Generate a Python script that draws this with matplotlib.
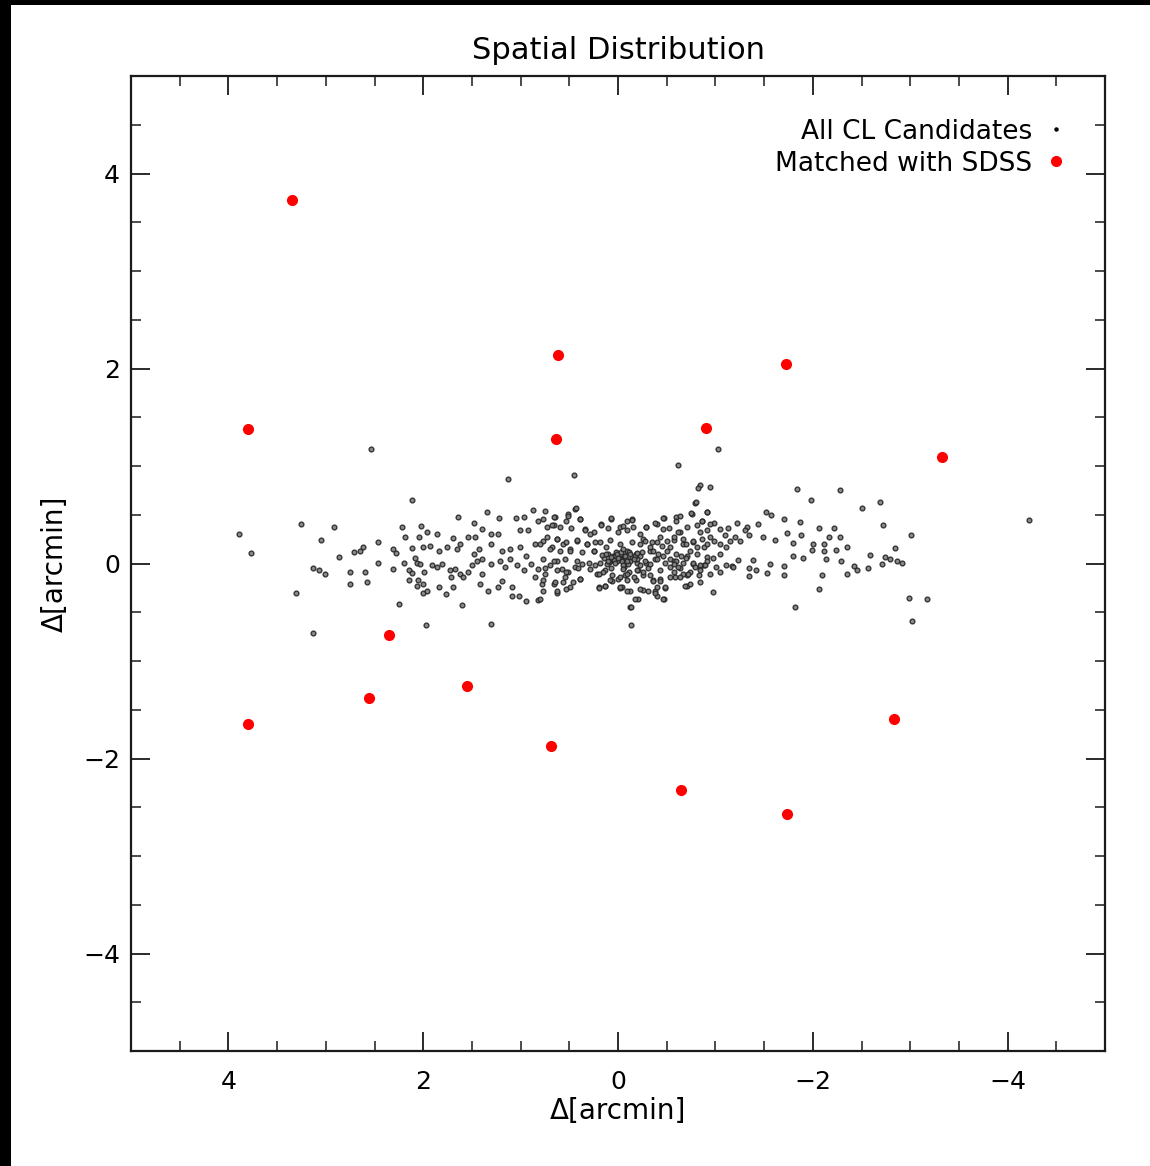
import numpy as np
import matplotlib.pyplot as plt
from matplotlib.patches import Rectangle
from matplotlib.ticker import MultipleLocator

# SDSS matched candidates (arcmin)
red_x = [3.35, 0.615, -1.72, 3.80, 0.64, -0.90, -3.33, 2.35, 2.56, 1.55, 3.80, 0.69, -2.83, -0.65, -1.74]
red_y = [3.73, 2.14, 2.05, 1.38, 1.28, 1.39, 1.09, -0.73, -1.38, -1.26, -1.65, -1.87, -1.59, -2.32, -2.57]

# all CL candidates, left part of the strip
cl_x_left = [2.54, 2.11, 3.25, 3.89, 2.92, 3.77, 3.05, 2.46, 2.22, 2.02, 2.19, 2.04, 2.86, 2.71,
             2.65, 2.62, 2.31, 2.28, 2.11, 3.13, 3.07, 3.01, 2.75, 2.60, 2.46, 2.75, 2.58, 2.31,
             2.20, 2.15, 2.15, 2.06, 2.03, 2.08, 2.05, 2.06, 2.00, 1.96, 3.31, 2.25, 1.97, 3.13,
             1.99, 2.12]
cl_y_left = [1.17, 0.65, 0.41, 0.30, 0.37, 0.11, 0.24, 0.22, 0.37, 0.38, 0.27, 0.27, 0.07, 0.12,
             0.13, 0.17, 0.15, 0.11, 0.16, -0.05, -0.07, -0.11, -0.09, -0.09, 0.01, -0.21, -0.19, -0.06,
             0.01, -0.07, -0.17, 0.01, 0.00, 0.06, -0.17, -0.23, -0.30, -0.28, -0.30, -0.42, -0.63, -0.71,
             -0.09, -0.10]

# middle-left part of the strip
cl_x_midl = [1.13, 0.45, 1.34, 1.64, 1.22, 1.48, 0.87, 0.75, 0.51, 0.44, 0.65, 1.05, 0.97,
             1.96, 1.86, 1.69, 1.54, 1.47, 1.40, 1.30, 1.23, 1.01, 0.92, 0.82, 0.73, 0.66, 0.53,
             0.39, 0.34, 0.25, 0.17, 0.07, -0.02, -0.09,
             2.00, 1.93, 1.84, 1.76, 1.65, 1.62, 1.48, 1.43, 1.30, 1.19, 1.11, 1.01, 0.94, 0.85,
             0.77, 0.68, 0.63, 0.56, 0.49, 0.42, 0.32, 0.25, 0.18, 0.12, 0.05, -0.02, 0.01, -0.05,
             0.08, -0.09,
             1.91, 1.86, 1.81, 1.72, 1.67, 1.62, 1.50, 1.45, 1.40, 1.30, 1.21, 1.16, 1.11, 1.04,
             0.97, 0.89, 0.82, 0.75, 0.70, 0.63, 0.58, 0.51, 0.44, 0.37, 0.29, 0.22, 0.13, 0.06,
             0.00, -0.07,
             2.00, 1.84, 1.77, 1.69, 1.71, 1.59, 1.54, 1.42, 1.40, 1.33, 1.23, 1.19, 1.09, 1.09,
             1.02, 0.94, 0.82, 0.78, 0.85, 0.66, 0.63, 0.56, 0.49, 0.39, 0.20, 0.13, 0.06, -0.04,
             1.60, 1.30,
             0.03, 0.06, 0.10, 0.14, 0.02, 0.09, 0.16, 0.04, 0.11]
cl_y_midl = [0.87, 0.91, 0.53, 0.48, 0.47, 0.42, 0.55, 0.54, 0.51, 0.56, 0.48, 0.47, 0.48,
             0.32, 0.30, 0.26, 0.27, 0.27, 0.35, 0.30, 0.30, 0.34, 0.34, 0.44, 0.37, 0.39, 0.44,
             0.46, 0.35, 0.32, 0.41, 0.46, 0.37, 0.44,
             0.17, 0.18, 0.13, 0.17, 0.15, 0.20, 0.10, 0.15, 0.20, 0.13, 0.15, 0.17, 0.08, 0.20,
             0.23, 0.17, 0.25, 0.20, 0.15, 0.23, 0.20, 0.13, 0.22, 0.17, 0.08, 0.06, 0.03, 0.05,
             0.03, 0.13,
             -0.02, -0.04, 0.00, -0.07, -0.06, -0.11, -0.02, 0.03, 0.05, 0.00, 0.03, -0.04, 0.05, -0.02,
             -0.07, 0.00, -0.06, -0.11, -0.02, 0.03, -0.06, -0.09, -0.04, 0.00, -0.06, -0.11, -0.07, -0.12,
             -0.16, -0.12,
             -0.21, -0.24, -0.31, -0.24, -0.14, -0.14, -0.09, -0.21, -0.11, -0.28, -0.24, -0.18, -0.24, -0.33,
             -0.33, -0.38, -0.37, -0.21, -0.14, -0.21, -0.30, -0.19, -0.24, -0.16, -0.24, -0.23, -0.18, -0.24,
             -0.43, -0.62,
             0.08, 0.05, 0.10, 0.06, 0.12, 0.02, 0.09, 0.04, 0.00]

# dense core around the centre
cl_x_core = [0.43, 0.66, 0.51, 0.39, 0.77, 0.07, -0.14, -0.47, -0.60, -0.76, -0.91, -0.79, -0.86,
             0.68, 0.60, 0.48, 0.34, 0.29, 0.17, 0.10, 0.00, -0.09, -0.23, -0.29, -0.40, -0.52,
             -0.64, -0.71, -0.81, -0.91,
             0.73, 0.63, 0.53, 0.42, 0.32, 0.24, 0.08, -0.02, -0.14, -0.26, -0.35, -0.45, -0.57,
             -0.67, -0.77, -0.88,
             0.80, 0.70, 0.60, 0.49, 0.37, 0.25, 0.12, 0.07, 0.01, -0.06, -0.11, -0.18, -0.23,
             -0.33, -0.41, -0.50, -0.60, -0.71, -0.81, -0.91,
             0.77, 0.66, 0.54, 0.42, 0.30, 0.18, 0.10, 0.03, -0.04, -0.12, -0.19, -0.29, -0.38,
             -0.48, -0.57, -0.67, -0.77, -0.88,
             0.75, 0.63, 0.53, 0.41, 0.24, 0.15, 0.07, -0.06, -0.11, -0.21, -0.31, -0.43, -0.53,
             -0.64, -0.74, -0.84,
             0.77, 0.65, 0.54, 0.46, 0.39, 0.20, 0.08, -0.02, -0.09, -0.18, -0.26, -0.36, -0.43,
             -0.59, -0.71, -0.83,
             0.77, 0.63, 0.53, 0.20, 0.13, -0.02, -0.12, -0.26, -0.38, -0.48, -0.71, -0.84,
             0.80, -0.21, -0.40, -0.47, -0.12,
             0.00, -0.03, -0.08, -0.14, -0.20, -0.25, -0.10, -0.05]
cl_y_core = [0.57, 0.48, 0.49, 0.46, 0.46, 0.47, 0.46, 0.47, 0.48, 0.51, 0.53, 0.62, 0.44,
             0.39, 0.37, 0.36, 0.34, 0.30, 0.39, 0.36, 0.32, 0.34, 0.30, 0.37, 0.41, 0.36,
             0.32, 0.37, 0.39, 0.34,
             0.27, 0.25, 0.22, 0.24, 0.20, 0.22, 0.24, 0.20, 0.22, 0.25, 0.22, 0.18, 0.24,
             0.20, 0.22, 0.17,
             0.20, 0.15, 0.13, 0.13, 0.12, 0.13, 0.10, 0.07, 0.10, 0.08, 0.12, 0.10, 0.08,
             0.13, 0.10, 0.13, 0.10, 0.08, 0.10, 0.07,
             0.05, 0.03, 0.05, 0.03, 0.01, 0.01, 0.03, 0.01, 0.03, 0.03, 0.01, 0.01, 0.05,
             0.01, 0.03, 0.01, 0.00, -0.02,
             -0.05, -0.07, -0.09, -0.05, -0.02, -0.09, -0.05, -0.04, -0.09, -0.07, -0.05, -0.07, -0.04,
             -0.05, -0.09, -0.04,
             -0.17, -0.19, -0.14, -0.19, -0.16, -0.11, -0.17, -0.14, -0.17, -0.17, -0.12, -0.17, -0.16,
             -0.14, -0.12, -0.12,
             -0.28, -0.28, -0.26, -0.25, -0.23, -0.25, -0.28, -0.27, -0.28, -0.25, -0.23, -0.19,
             -0.36, -0.36, -0.33, -0.36, -0.45,
             0.06, 0.12, 0.05, 0.07, 0.05, 0.12, 0.00, -0.02]

# middle-right part of the strip
cl_x_midr = [-1.03, -0.62, -0.84, -0.82, -0.94, -0.80, -1.84, -1.98, -0.75, -0.91, -1.52, -1.57,
             -1.70, -1.87, -2.06, -1.73, -1.88, -0.98, -1.82, -0.13, -0.13, -2.06, -2.09, -1.70,
             -1.53, -1.35, -1.35, -1.42, -1.17, -1.23, -1.39, -1.56, -1.70, -1.80, -1.90, -1.99,
             -2.11, -2.00, -2.12, -1.80, -1.61, -1.49, -1.44, -1.32, -1.22, -1.13, -1.05, -0.99,
             -0.94, -0.86, -0.84, -0.64, -0.60, -0.46, -0.38, -0.29, -0.14, -0.15, -0.05, -0.46,
             -0.07, -0.12, -0.17, -0.09, -0.16, -0.19, -0.05, -0.23, -0.28, -0.33, -0.36, -0.40,
             -0.43, -0.50, -0.53, -0.57, -0.62, -0.67, -0.70, -0.74, -0.77, -0.81, -0.86, -0.91,
             -0.94, -0.99, -1.05, -1.10, -1.15, -1.20, -1.25, -1.30, -1.34, -1.11, -1.05, -0.98,
             -0.91, -0.84, -0.77, -0.70, -0.65, -0.60, -0.53, -0.46, -0.40, -0.33, -0.28, -0.23,
             -0.19, -0.16, -0.09, -0.05, -0.26, -0.33, -0.36, -0.40, -0.43, -0.48, -0.46, -0.53,
             -0.57, -0.62, -0.67, -0.69, -0.74, -0.72, -0.79, -0.84, -0.89, -0.94, -1.01, -1.05,
             -1.11, -1.18, -0.31, -0.23, -0.17, -0.09, -0.02, -0.38, -0.58, -0.64]
cl_y_midr = [1.17, 1.01, 0.81, 0.77, 0.78, 0.63, 0.76, 0.65, 0.52, 0.53, 0.53, 0.50,
             0.46, 0.43, 0.36, 0.31, 0.29, -0.29, -0.45, -0.45, -0.63, -0.26, -0.12, -0.12,
             -0.10, -0.13, -0.05, -0.07, -0.03, 0.04, 0.04, 0.00, -0.03, 0.08, 0.06, 0.14,
             0.13, 0.20, 0.20, 0.21, 0.24, 0.27, 0.41, 0.37, 0.42, 0.36, 0.35, 0.42,
             0.41, 0.44, 0.32, 0.49, 0.44, 0.47, 0.42, 0.37, 0.45, 0.37, 0.38, 0.35,
             0.08, 0.10, 0.08, 0.03, 0.05, 0.11, 0.15, 0.20, 0.23, 0.17, 0.13, 0.22,
             0.27, 0.23, 0.17, 0.27, 0.32, 0.25, 0.20, 0.13, 0.23, 0.17, 0.25, 0.20,
             0.27, 0.23, 0.20, 0.29, 0.23, 0.27, 0.23, 0.34, 0.29, 0.17, 0.10, 0.06,
             0.03, -0.02, 0.01, 0.06, 0.08, 0.03, 0.05, 0.08, 0.05, 0.00, 0.03, -0.02,
             -0.07, -0.14, -0.11, -0.06, -0.09, -0.12, -0.18, -0.24, -0.18, -0.24, -0.36, -0.14,
             -0.09, -0.04, -0.11, -0.23, -0.21, -0.11, -0.04, -0.07, -0.02, -0.11, -0.04, -0.09,
             -0.02, -0.04, -0.28, -0.26, -0.36, -0.28, -0.24, -0.30, 0.00, -0.14]

# right part of the strip
cl_x_right = [-2.28, -2.50, -2.69, -4.22, -2.72, -3.01, -2.84, -2.59, -2.74, -2.79, -2.86, -2.92,
              -2.71, -2.57, -2.42, -2.45, -2.35, -2.29, -2.35, -2.28, -2.22, -2.17, -2.24, -2.14,
              -2.99, -3.17, -3.02]
cl_y_right = [0.75, 0.57, 0.63, 0.45, 0.39, 0.29, 0.16, 0.09, 0.07, 0.05, 0.03, 0.01,
              0.00, -0.05, -0.03, -0.07, -0.11, 0.03, 0.17, 0.27, 0.36, 0.27, 0.14, 0.05,
              -0.35, -0.36, -0.59]

cl_x = cl_x_left + cl_x_midl + cl_x_core + cl_x_midr + cl_x_right
cl_y = cl_y_left + cl_y_midl + cl_y_core + cl_y_midr + cl_y_right

fig = plt.figure(figsize=(11.5, 11.66), dpi=100)
# black frame bands on the left and top edge of the image
fig.patches.append(Rectangle((0, 0), 11 / 1150, 1, transform=fig.transFigure,
                             facecolor='black', edgecolor='none', zorder=-5))
fig.patches.append(Rectangle((0, 1161 / 1166), 1, 5 / 1166, transform=fig.transFigure,
                             facecolor='black', edgecolor='none', zorder=-5))

ax = fig.add_axes([131 / 1150, 115 / 1166, 974 / 1150, 975 / 1166])
ax.plot(cl_x, cl_y, 'o', ls='none', ms=3.4, mfc='0.5', mec='0.15', mew=1.0, alpha=0.9,
        label='All CL Candidates')
ax.plot(red_x, red_y, 'o', ls='none', ms=7, color='red', mec='red', label='Matched with SDSS')

ax.set_xlim(5, -5)
ax.set_ylim(-5, 5)
ax.xaxis.set_major_locator(MultipleLocator(2))
ax.xaxis.set_minor_locator(MultipleLocator(0.5))
ax.yaxis.set_major_locator(MultipleLocator(2))
ax.yaxis.set_minor_locator(MultipleLocator(0.5))
ax.tick_params(which='both', direction='in', top=True, right=True, labelsize=18, color='0.1')
ax.tick_params(which='major', length=14, width=1.3)
ax.tick_params(which='minor', length=7, width=1.1)
ax.tick_params(axis='x', which='major', pad=14)
ax.tick_params(axis='y', which='major', pad=8)
for sp in ax.spines.values():
    sp.set_linewidth(1.6)
    sp.set_color('0.1')

ax.set_title('Spatial Distribution', fontsize=22, pad=12)
ax.set_xlabel('Δ[arcmin]', fontsize=20, labelpad=2)
ax.set_ylabel('Δ[arcmin]', fontsize=20, labelpad=10)

leg = ax.legend(loc='upper right', bbox_to_anchor=(0.971, 0.967), borderaxespad=0,
                frameon=False, markerfirst=False, fontsize=19, handlelength=0.8,
                handletextpad=0.5, labelspacing=0.22)
leg.legend_handles[0].set_markersize(2.2)
leg.legend_handles[0].set_markerfacecolor('black')
leg.legend_handles[0].set_markeredgecolor('black')
leg.legend_handles[0].set_alpha(1)

fig.savefig('out.png', dpi=100)
